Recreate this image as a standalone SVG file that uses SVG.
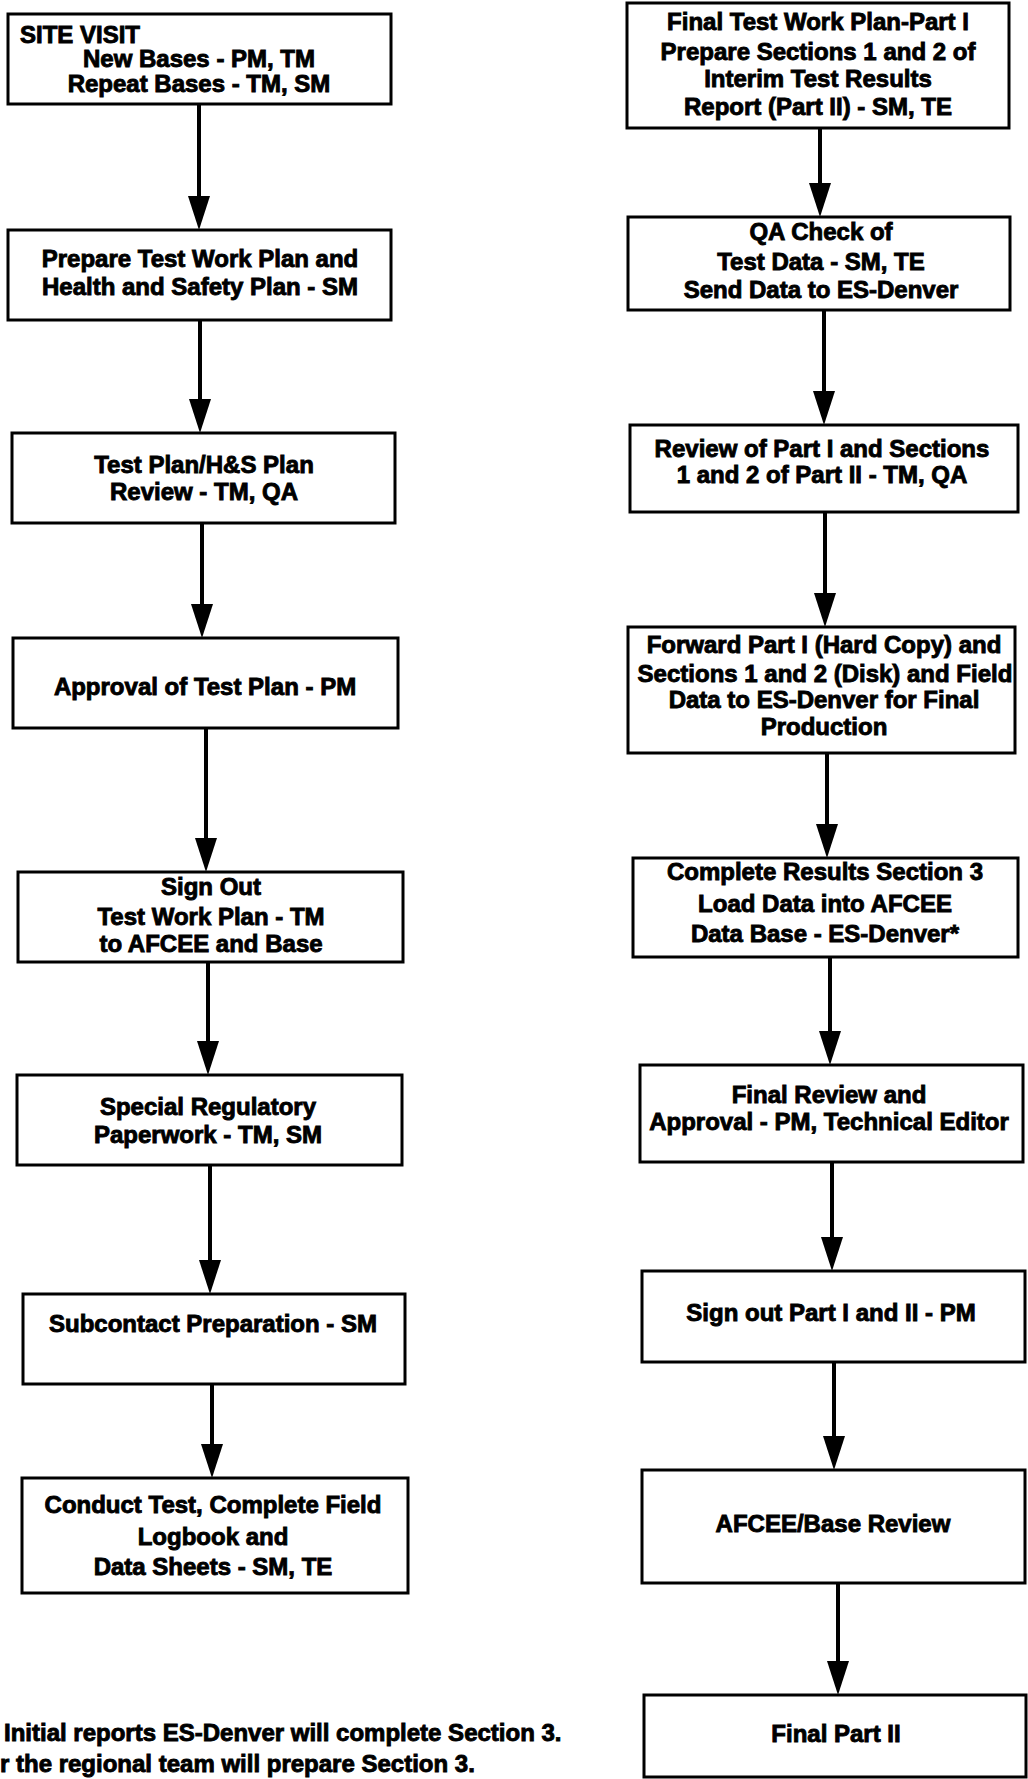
<svg xmlns="http://www.w3.org/2000/svg" width="1028" height="1779" viewBox="0 0 1028 1779">
<style>
.box{fill:#fff;stroke:#000;stroke-width:3}
.t{font-family:"Liberation Sans",Arial,Helvetica,sans-serif;font-weight:bold;font-size:24px;fill:#000;stroke:#000;stroke-width:0.9;text-anchor:middle}
.s{text-anchor:start}
.c{stroke:#000;stroke-width:4;fill:none}
</style>
<defs>
<marker id="ah" viewBox="0 -11 34 22" refX="3" refY="0" markerWidth="34" markerHeight="22" markerUnits="userSpaceOnUse" orient="auto">
<path d="M0,-11 L34,0 L0,11 z" fill="#000"/>
</marker>
</defs>
<rect width="1028" height="1779" fill="#fff"/>
<g id="connectors">
<line class="c" x1="199" y1="104" x2="199" y2="199" marker-end="url(#ah)"/>
<line class="c" x1="200" y1="320" x2="200" y2="402" marker-end="url(#ah)"/>
<line class="c" x1="202" y1="523" x2="202" y2="607" marker-end="url(#ah)"/>
<line class="c" x1="206" y1="728" x2="206" y2="841" marker-end="url(#ah)"/>
<line class="c" x1="208" y1="962" x2="208" y2="1044" marker-end="url(#ah)"/>
<line class="c" x1="210" y1="1165" x2="210" y2="1263" marker-end="url(#ah)"/>
<line class="c" x1="212" y1="1384" x2="212" y2="1447" marker-end="url(#ah)"/>
<line class="c" x1="820" y1="128" x2="820" y2="186" marker-end="url(#ah)"/>
<line class="c" x1="824" y1="310" x2="824" y2="394" marker-end="url(#ah)"/>
<line class="c" x1="825" y1="512" x2="825" y2="596" marker-end="url(#ah)"/>
<line class="c" x1="827" y1="753" x2="827" y2="827" marker-end="url(#ah)"/>
<line class="c" x1="830" y1="957" x2="830" y2="1034" marker-end="url(#ah)"/>
<line class="c" x1="832" y1="1162" x2="832" y2="1240" marker-end="url(#ah)"/>
<line class="c" x1="834" y1="1362" x2="834" y2="1439" marker-end="url(#ah)"/>
<line class="c" x1="838" y1="1583" x2="838" y2="1664" marker-end="url(#ah)"/>
</g>
<g id="n-site-visit">
<rect class="box" x="8" y="14" width="383" height="90"/>
<text class="t s" x="20" y="43">SITE VISIT</text>
<text class="t" x="199" y="67">New Bases - PM, TM</text>
<text class="t" x="199" y="92">Repeat Bases - TM, SM</text>
</g>
<g id="n-prepare-plan">
<rect class="box" x="8" y="230" width="383" height="90"/>
<text class="t" x="200" y="267">Prepare Test Work Plan and</text>
<text class="t" x="200" y="295">Health and Safety Plan - SM</text>
</g>
<g id="n-plan-review">
<rect class="box" x="12" y="433" width="383" height="90"/>
<text class="t" x="204" y="473">Test Plan/H&amp;S Plan</text>
<text class="t" x="204" y="500">Review - TM, QA</text>
</g>
<g id="n-approval">
<rect class="box" x="13" y="638" width="385" height="90"/>
<text class="t" x="205" y="695">Approval of Test Plan - PM</text>
</g>
<g id="n-sign-out">
<rect class="box" x="18" y="872" width="385" height="90"/>
<text class="t" x="211" y="895">Sign Out</text>
<text class="t" x="211" y="925">Test Work Plan - TM</text>
<text class="t" x="211" y="952">to AFCEE and Base</text>
</g>
<g id="n-regulatory">
<rect class="box" x="17" y="1075" width="385" height="90"/>
<text class="t" x="208" y="1115">Special Regulatory</text>
<text class="t" x="208" y="1143">Paperwork - TM, SM</text>
</g>
<g id="n-subcontact">
<rect class="box" x="23" y="1294" width="382" height="90"/>
<text class="t" x="213" y="1332">Subcontact Preparation - SM</text>
</g>
<g id="n-conduct-test">
<rect class="box" x="22" y="1478" width="386" height="115"/>
<text class="t" x="213" y="1513">Conduct Test, Complete Field</text>
<text class="t" x="213" y="1545">Logbook and</text>
<text class="t" x="213" y="1575">Data Sheets - SM, TE</text>
</g>
<g id="n-final-plan">
<rect class="box" x="627" y="3" width="382" height="125"/>
<text class="t" x="818" y="30">Final Test Work Plan-Part I</text>
<text class="t" x="818" y="60">Prepare Sections 1 and 2 of</text>
<text class="t" x="818" y="87">Interim Test Results</text>
<text class="t" x="818" y="115">Report (Part II) - SM, TE</text>
</g>
<g id="n-qa-check">
<rect class="box" x="628" y="217" width="382" height="93"/>
<text class="t" x="821" y="240">QA Check of</text>
<text class="t" x="821" y="270">Test Data - SM, TE</text>
<text class="t" x="821" y="298">Send Data to ES-Denver</text>
</g>
<g id="n-review-part1">
<rect class="box" x="630" y="425" width="388" height="87"/>
<text class="t" x="822" y="457">Review of Part I and Sections</text>
<text class="t" x="822" y="483">1 and 2 of Part II - TM, QA</text>
</g>
<g id="n-forward">
<rect class="box" x="628" y="627" width="387" height="126"/>
<text class="t" x="824" y="653">Forward Part I (Hard Copy) and</text>
<text class="t" x="825" y="682">Sections 1 and 2 (Disk) and Field</text>
<text class="t" x="824" y="708">Data to ES-Denver for Final</text>
<text class="t" x="824" y="735">Production</text>
</g>
<g id="n-complete-results">
<rect class="box" x="633" y="858" width="385" height="99"/>
<text class="t" x="825" y="880">Complete Results Section 3</text>
<text class="t" x="825" y="912">Load Data into AFCEE</text>
<text class="t" x="825" y="942">Data Base - ES-Denver*</text>
</g>
<g id="n-final-review">
<rect class="box" x="640" y="1065" width="383" height="97"/>
<text class="t" x="829" y="1103">Final Review and</text>
<text class="t" x="829" y="1130">Approval - PM, Technical Editor</text>
</g>
<g id="n-sign-out-parts">
<rect class="box" x="642" y="1271" width="383" height="91"/>
<text class="t" x="831" y="1321">Sign out Part I and II - PM</text>
</g>
<g id="n-afcee-review">
<rect class="box" x="642" y="1470" width="383" height="113"/>
<text class="t" x="833" y="1532">AFCEE/Base Review</text>
</g>
<g id="n-final-part2">
<rect class="box" x="644" y="1695" width="382" height="82"/>
<text class="t" x="836" y="1742">Final Part II</text>
</g>
<g id="footnote">
<text class="t s" x="4" y="1741">Initial reports ES-Denver will complete Section 3.</text>
<text class="t s" x="0" y="1772">r the regional team will prepare Section 3.</text>
</g>
</svg>
